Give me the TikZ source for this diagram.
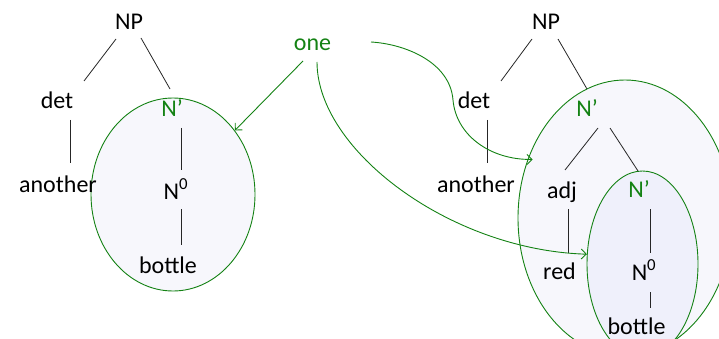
\documentclass[tikz,border=0pt]{standalone}
\usepackage{fontspec}
\setmainfont{Carlito}
\usetikzlibrary{shapes.geometric,arrows.meta}
\definecolor{grn}{RGB}{20,130,20}
\definecolor{fillA}{RGB}{247,247,252}
\definecolor{fillB}{RGB}{239,240,251}
\begin{document}
\begin{tikzpicture}[x=1pt,y=-1pt,
  txt/.style={anchor=base,inner sep=0pt,font=\fontsize{24}{28}\selectfont},
  gtxt/.style={txt,text=grn},
  tree/.style={draw=black!85,line width=0.8pt},
  blob/.style={ellipse,draw=grn,line width=0.9pt,inner sep=0pt},
  arr/.style={draw=grn,line width=0.9pt,-{Straight Barb[length=5pt,width=10pt]}}]
\useasboundingbox (0,0) rectangle (719,339);
\clip (0,0) rectangle (719,339);
% ellipses
\node[blob,fill=fillA,minimum width=164pt,minimum height=193pt] (ellL) at (173,194.5) {};
\node[blob,fill=fillA,minimum width=214pt,minimum height=276pt] (ellR) at (625,218) {};
\node[blob,fill=fillB,minimum width=111pt,minimum height=186pt] (ellI) at (642.5,264) {};
% left tree
\node[txt] (npL) at (129,30) {NP};
\node[txt] (detL) at (57,109) {det};
\node[txt] (anL) at (58,192) {another};
\node[gtxt] (nbL) at (172,117) {N’};
\node[txt] (n0L) at (176,199) {N\textsuperscript{0}};
\node[txt] (boL) at (168,273) {bottle};
% one
\node[gtxt] (one) at (312.5,51) {one};
% right tree
\node[txt] (npR) at (546,30) {NP};
\node[txt] (detR) at (474,109) {det};
\node[txt] (anR) at (476,192) {another};
\node[gtxt] (nbR) at (587,117) {N’};
\node[txt] (adj) at (562,198) {adj};
\node[txt] (red) at (559.5,279) {red};
\node[gtxt] (nbI) at (639,197) {N’};
\node[txt] (n0R) at (644,280) {N\textsuperscript{0}};
\node[txt] (boR) at (636.5,334.5) {bottle};
% left edges
\draw[tree] ([shift={(-13,9)}]npL.base) -- ([shift={(27,-28)}]detL.base);
\draw[tree] ([shift={(12,8)}]npL.base) -- ([shift={(-2,-28)}]nbL.base);
\draw[tree] ([shift={(13,11)}]detL.base) -- ([shift={(12,-29)}]anL.base);
\draw[tree] ([shift={(9,11)}]nbL.base) -- ([shift={(5,-29)}]n0L.base);
\draw[tree] ([shift={(5,10)}]n0L.base) -- ([shift={(13,-28)}]boL.base);
% right edges
\draw[tree] ([shift={(-14,9)}]npR.base) -- ([shift={(27,-28)}]detR.base);
\draw[tree] ([shift={(12,9)}]npR.base) -- ([shift={(0,-28)}]nbR.base);
\draw[tree] ([shift={(13,11)}]detR.base) -- ([shift={(11,-29)}]anR.base);
\draw[tree] ([shift={(11,11)}]nbR.base) -- ([shift={(3,-28)}]adj.base);
\draw[tree] ([shift={(23,11)}]nbR.base) -- ([shift={(-1,-26)}]nbI.base);
\draw[tree] ([shift={(6,11)}]adj.base) -- ([shift={(8.5,-26)}]red.base);
\draw[tree] ([shift={(11,12)}]nbI.base) -- ([shift={(6,-27)}]n0R.base);
\draw[tree] ([shift={(6,12)}]n0R.base) -- ([shift={(13.5,-26.5)}]boR.base);
% arrows
\draw[arr] ([shift={(-9.5,10)}]one.base) -- (ellL.46);
\draw[arr,shorten >=-5pt] ([shift={(58.5,-9)}]one.base) .. controls (405,44) and (450,62) .. (453,100)
   .. controls (456,135) and (490,160) .. (ellR.149);
\draw[arr] ([shift={(4.5,11)}]one.base) .. controls (317,150) and (450,250) .. (ellI.170);
\end{tikzpicture}
\end{document}
